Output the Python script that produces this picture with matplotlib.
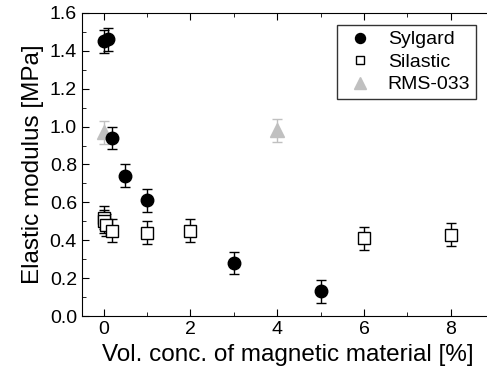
import matplotlib.pyplot as plt
from matplotlib.ticker import MultipleLocator

plt.rcParams['font.family'] = ['Liberation Sans', 'DejaVu Sans']

# Sylgard
syl_x = [0.0, 0.1, 0.2, 0.5, 1.0, 3.0, 5.0]
syl_y = [1.45, 1.46, 0.94, 0.74, 0.61, 0.28, 0.13]
syl_err = [0.06, 0.06, 0.06, 0.06, 0.06, 0.06, 0.06]

# Silastic
sil_x = [0.0, 0.0, 0.05, 0.2, 1.0, 2.0, 6.0, 8.0]
sil_y = [0.52, 0.50, 0.48, 0.45, 0.44, 0.45, 0.41, 0.43]
sil_err = [0.06, 0.06, 0.06, 0.06, 0.06, 0.06, 0.06, 0.06]

# RMS-033
rms_x = [0.0, 4.0]
rms_y = [0.97, 0.98]
rms_err = [0.06, 0.06]

fig = plt.figure(figsize=(4.87, 3.79), dpi=100)
ax = fig.add_axes([0.168, 0.166, 0.847, 0.800])

ax.errorbar(rms_x, rms_y, yerr=rms_err, fmt='^', color='#c0c0c0', ecolor='#c0c0c0',
            markersize=10, capsize=3.5, elinewidth=1, label='RMS-033', zorder=2)
ax.errorbar(sil_x, sil_y, yerr=sil_err, fmt='s', mfc='white', mec='black', ecolor='black',
            markersize=8, capsize=3.5, elinewidth=1, mew=1, label='Silastic', zorder=3)
ax.errorbar(syl_x, syl_y, yerr=syl_err, fmt='o', color='black', ecolor='black',
            markersize=9, capsize=3.5, elinewidth=1, label='Sylgard', zorder=4)

ax.set_xlim(-0.5, 9.0)
ax.set_ylim(0.0, 1.6)
ax.xaxis.set_major_locator(MultipleLocator(2))
ax.xaxis.set_minor_locator(MultipleLocator(1))
ax.yaxis.set_major_locator(MultipleLocator(0.2))
ax.yaxis.set_minor_locator(MultipleLocator(0.1))
ax.yaxis.set_major_formatter(plt.FormatStrFormatter('%.1f'))
ax.tick_params(which='both', direction='in', top=True, right=True, labelsize=14)
ax.tick_params(which='major', length=5)
ax.tick_params(which='minor', length=3)

ax.set_xlabel('Vol. conc. of magnetic material [%]', fontsize=17.5)
ax.set_ylabel('Elastic modulus [MPa]', fontsize=17.5)

handles, labels = ax.get_legend_handles_labels()
order = [2, 1, 0]
leg = ax.legend([handles[i][0] for i in order], [labels[i] for i in order],
                loc='upper right', bbox_to_anchor=(0.956, 0.96), borderaxespad=0,
                fontsize=14, markerscale=0.8,
                frameon=True, fancybox=False, edgecolor='black', handletextpad=0.6,
                borderpad=0.3, labelspacing=0.25, handlelength=1.7)
leg.get_frame().set_linewidth(1)

fig.savefig('out.png', dpi=100)
